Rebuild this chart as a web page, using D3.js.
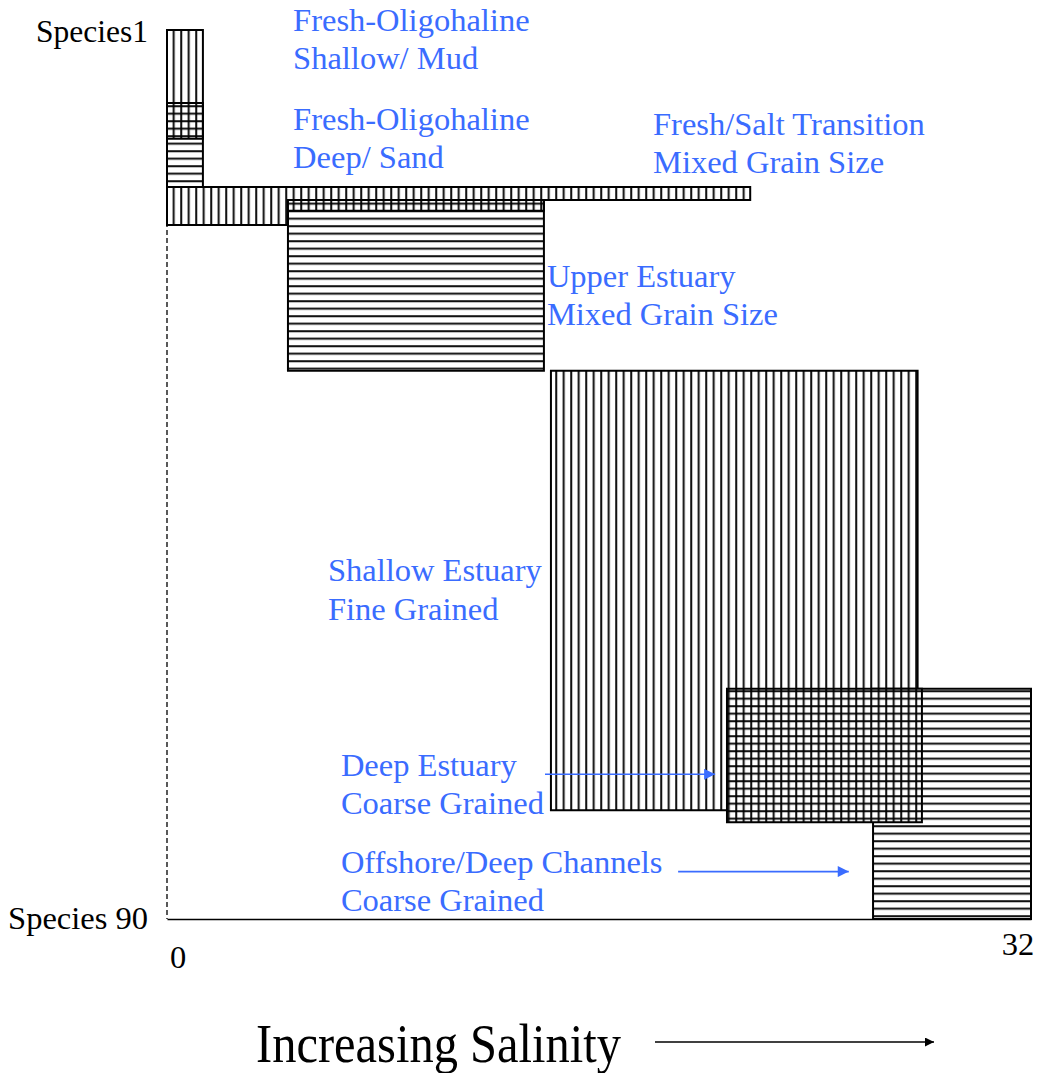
<!DOCTYPE html>
<html>
<head>
<meta charset="utf-8">
<script src="https://cdn.jsdelivr.net/npm/d3@7"></script>
<style>
  body { margin: 0; background: #fff; }
  text { font-family: "Liberation Serif", "Times New Roman", serif; }
</style>
</head>
<body>
<svg id="chart" width="1042" height="1073"></svg>
<script>
// salinity range of the axis and the species numbering
const salinityTicks = [0, 32];
const speciesRange = [0, 90];
const speciesLabels = ["Species1", "Species 90"];

// assemblages (drawn in this order)
const groupNames = [
  ["Fresh-Oligohaline", "Shallow/ Mud"],
  ["Fresh-Oligohaline", "Deep/ Sand"],
  ["Fresh/Salt Transition", "Mixed Grain Size"],
  ["Upper Estuary", "Mixed Grain Size"],
  ["Shallow Estuary", "Fine Grained"],
  ["Offshore/Deep Channels", "Coarse Grained"],
  ["Deep Estuary", "Coarse Grained"],
];

// blocks per assemblage: [salinity min, salinity max, species from, species to]
const groupBlocks = [
  [[0, 1.33, 0, 11.0]],
  [[0, 1.33, 7.4, 15.9]],
  [[0, 21.6, 15.9, 17.2], [0, 13.96, 17.2, 18.3], [0, 4.48, 18.3, 19.75]],
  [[4.48, 13.96, 17.2, 34.5]],
  [[14.22, 27.8, 34.5, 79.0]],
  [[26.15, 32, 66.7, 90]],
  [[20.74, 27.96, 66.7, 80.2]],
];

// hatch style per assemblage
const groupHatch = ["vert", "horiz", "vert", "horiz", "vert", "horiz", "grid"];

// where each label starts: [salinity, species] of the first baseline
const labelAnchors = [
  [4.67, 0.1], [4.67, 10.1], [18.0, 10.6], [14.07, 26.0],
  [5.96, 55.8], [6.44, 85.3], [6.44, 75.5],
];

// blue pointer arrows: [salinity from, salinity to, species]
const pointerArrows = [
  [14.0, 20.3, 75.35],
  [18.93, 25.25, 85.2],
];

const svg = d3.select("#chart");
const blue = "#3a6cff";

const x = d3.scaleLinear().domain(salinityTicks).range([167, 1031]);
const y = d3.scaleLinear().domain(speciesRange).range([30, 919]);

// hatch patterns
const defs = svg.append("defs");
const step = 7.5;
function hatch(id, vert, horiz, bg) {
  const p = defs.append("pattern")
    .attr("id", id)
    .attr("patternUnits", "userSpaceOnUse")
    .attr("width", step)
    .attr("height", step);
  if (bg) p.append("rect").attr("width", step).attr("height", step).attr("fill", bg);
  if (vert) p.append("line").attr("x1", 1.2).attr("x2", 1.2).attr("y1", 0).attr("y2", step)
    .attr("stroke", "#000").attr("stroke-width", 1.9);
  if (horiz) p.append("line").attr("y1", 1.2).attr("y2", 1.2).attr("x1", 0).attr("x2", step)
    .attr("stroke", "#000").attr("stroke-width", 1.9);
}
hatch("vert", true, false, null);
hatch("horiz", false, true, null);
hatch("grid", true, true, "#fff");

// dashed left axis and solid bottom axis
svg.append("line")
  .attr("x1", x(0)).attr("x2", x(0))
  .attr("y1", y(speciesRange[0])).attr("y2", y(speciesRange[1]))
  .attr("stroke", "#000").attr("stroke-width", 1.3)
  .attr("stroke-dasharray", "5,3");

svg.append("g")
  .attr("transform", `translate(0,${y(speciesRange[1])})`)
  .call(d3.axisBottom(x).tickValues([]).tickSizeOuter(0))
  .select(".domain").attr("stroke-width", 1.6);

// outline of a stack of blocks sharing the same left edge
function outline(blocks) {
  const first = blocks[0];
  let d = `M${x(first[0])},${y(first[2])}`;
  blocks.forEach((b) => {
    d += `H${x(b[1])}V${y(b[3])}`;
  });
  d += `H${x(first[0])}Z`;
  return d;
}

groupBlocks.forEach((blocks, i) => {
  svg.append("path")
    .attr("class", "group")
    .attr("d", outline(blocks))
    .attr("fill", `url(#${groupHatch[i]})`)
    .attr("stroke", "#000")
    .attr("stroke-width", 2);
});

// labels
groupNames.forEach((lines, i) => {
  const t = svg.append("text")
    .attr("x", x(labelAnchors[i][0]))
    .attr("y", y(labelAnchors[i][1]))
    .attr("fill", blue)
    .style("font-size", "32.5px");
  lines.forEach((s, j) => {
    t.append("tspan")
      .attr("x", x(labelAnchors[i][0]))
      .attr("dy", j === 0 ? 0 : 38.5)
      .text(s);
  });
});

// arrowheads
defs.append("marker")
  .attr("id", "blueHead")
  .attr("viewBox", "0 0 10 10")
  .attr("refX", 10).attr("refY", 5)
  .attr("markerWidth", 12).attr("markerHeight", 11)
  .attr("markerUnits", "userSpaceOnUse")
  .attr("orient", "auto")
  .append("path").attr("d", "M0,0L10,5L0,10Z").attr("fill", blue);

defs.append("marker")
  .attr("id", "blackHead")
  .attr("viewBox", "0 0 10 10")
  .attr("refX", 10).attr("refY", 5)
  .attr("markerWidth", 9).attr("markerHeight", 9)
  .attr("markerUnits", "userSpaceOnUse")
  .attr("orient", "auto")
  .append("path").attr("d", "M0,0L10,5L0,10Z").attr("fill", "#000");

svg.selectAll(".pointer")
  .data(pointerArrows)
  .enter()
  .append("line")
  .attr("class", "pointer")
  .attr("x1", (d) => x(d[0]))
  .attr("x2", (d) => x(d[1]))
  .attr("y1", (d) => y(d[2]))
  .attr("y2", (d) => y(d[2]))
  .attr("stroke", blue)
  .attr("stroke-width", 1.6)
  .attr("marker-end", "url(#blueHead)");

// species labels
svg.append("text")
  .attr("x", 148).attr("y", y(speciesRange[0]) + 12)
  .attr("text-anchor", "end")
  .style("font-size", "31.5px")
  .text(speciesLabels[0]);

svg.append("text")
  .attr("x", 148).attr("y", y(speciesRange[1]) + 10)
  .attr("text-anchor", "end")
  .style("font-size", "32.5px")
  .text(speciesLabels[1]);

// salinity tick labels
svg.append("text")
  .attr("x", x(salinityTicks[0]) + 11).attr("y", y(speciesRange[1]) + 49)
  .attr("text-anchor", "middle")
  .style("font-size", "32.5px")
  .text(salinityTicks[0]);

svg.append("text")
  .attr("x", x(salinityTicks[1]) - 13).attr("y", y(speciesRange[1]) + 36)
  .attr("text-anchor", "middle")
  .style("font-size", "32.5px")
  .text(salinityTicks[1]);

// axis title with arrow
svg.append("text")
  .attr("transform", "translate(256,1062) scale(1,1.12)")
  .style("font-size", "48.5px")
  .text("Increasing Salinity");

svg.append("line")
  .attr("x1", 655).attr("x2", 934)
  .attr("y1", 1042).attr("y2", 1042)
  .attr("stroke", "#000").attr("stroke-width", 1.6)
  .attr("marker-end", "url(#blackHead)");
</script>
</body>
</html>
